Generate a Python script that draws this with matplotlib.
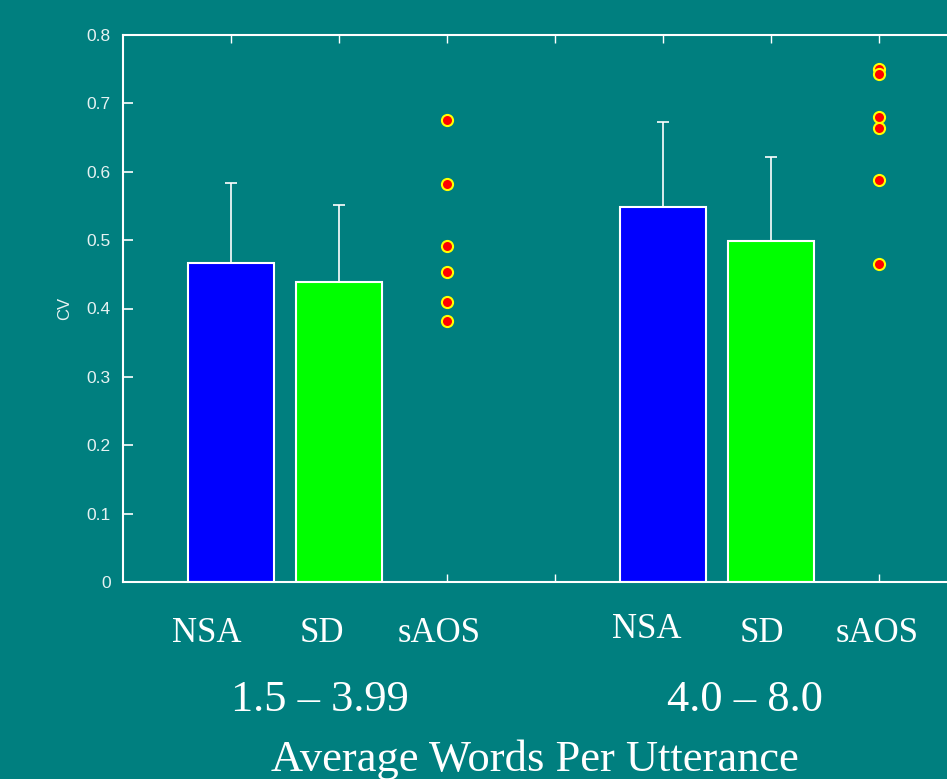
import matplotlib
matplotlib.use('Agg')
import matplotlib.pyplot as plt

groups = ['1.5 \u2013 3.99', '4.0 \u2013 8.0']
categories = ['NSA', 'SD', 'sAOS']

nsa_mean = [0.467, 0.548]
nsa_err = [0.117, 0.125]
sd_mean = [0.439, 0.498]
sd_err = [0.113, 0.124]
saos_low = [0.676, 0.582, 0.491, 0.453, 0.409, 0.381]
saos_high = [0.751, 0.743, 0.680, 0.664, 0.588, 0.465]

bg = '#007f7f'
fg = 'white'
lab = '#e6f2f2'

plt.rcParams['font.family'] = ['Liberation Sans', 'DejaVu Sans']

fig = plt.figure(figsize=(9.47, 7.79), dpi=100, facecolor=bg)
ax = fig.add_axes([123 / 947, 1 - 582 / 779, 864 / 947, 547 / 779])
ax.set_facecolor(bg)

nsa_x = [1, 5]
sd_x = [2, 6]
saos_x = [3, 7]

ax.bar(nsa_x, nsa_mean, width=0.8, color='#0000ff', edgecolor=fg, linewidth=1.5, zorder=2)
ax.bar(sd_x, sd_mean, width=0.8, color='#00ff00', edgecolor=fg, linewidth=1.5, zorder=2)
ax.errorbar(nsa_x, nsa_mean, yerr=[[0, 0], nsa_err], fmt='none', ecolor=fg,
            elinewidth=1.2, capsize=4.5, capthick=1.2, zorder=3)
ax.errorbar(sd_x, sd_mean, yerr=[[0, 0], sd_err], fmt='none', ecolor=fg,
            elinewidth=1.2, capsize=4.5, capthick=1.2, zorder=3)

for x, vals in zip(saos_x, [saos_low, saos_high]):
    ax.plot([x] * len(vals), vals, 'o', color='red', markersize=8,
            markeredgecolor='yellow', markeredgewidth=1.5, zorder=4)

ax.set_xlim(0, 8)
ax.set_ylim(0, 0.8)
ax.set_yticks([0, 0.1, 0.2, 0.3, 0.4, 0.5, 0.6, 0.7, 0.8])
ax.set_yticklabels(['0', '0.1', '0.2', '0.3', '0.4', '0.5', '0.6', '0.7', '0.8'])
ax.set_xticks(range(1, 8))
ax.tick_params(axis='x', direction='in', top=True, bottom=True, length=6,
               width=1, color=fg, labelbottom=False)
ax.tick_params(axis='y', direction='in', length=7, width=1.2, color=fg,
               labelcolor=lab, labelsize=12.5, pad=9)
for s in ax.spines.values():
    s.set_color(fg)
    s.set_linewidth(1.5)

ax.set_ylabel('CV', color=lab, fontsize=12, labelpad=10)

serif = 'Liberation Serif'
cat_px = [207, 322, 439, 647, 762, 877]
for i, px in enumerate(cat_px):
    y = 630 if i == 3 else 633
    fig.text(px / 947, 1 - y / 779, categories[i % 3], family=serif, fontsize=25,
             color=fg, ha='center', va='center')

fig.text(320 / 947, 1 - 700 / 779, groups[0], family=serif, fontsize=32,
         color=fg, ha='center', va='center')
fig.text(745 / 947, 1 - 700 / 779, groups[1], family=serif, fontsize=32,
         color=fg, ha='center', va='center')
fig.text(535 / 947, 1 - 760 / 779, 'Average Words Per Utterance', family=serif,
         fontsize=32, color=fg, ha='center', va='center')

fig.savefig('out.png', dpi=100, facecolor=bg)
